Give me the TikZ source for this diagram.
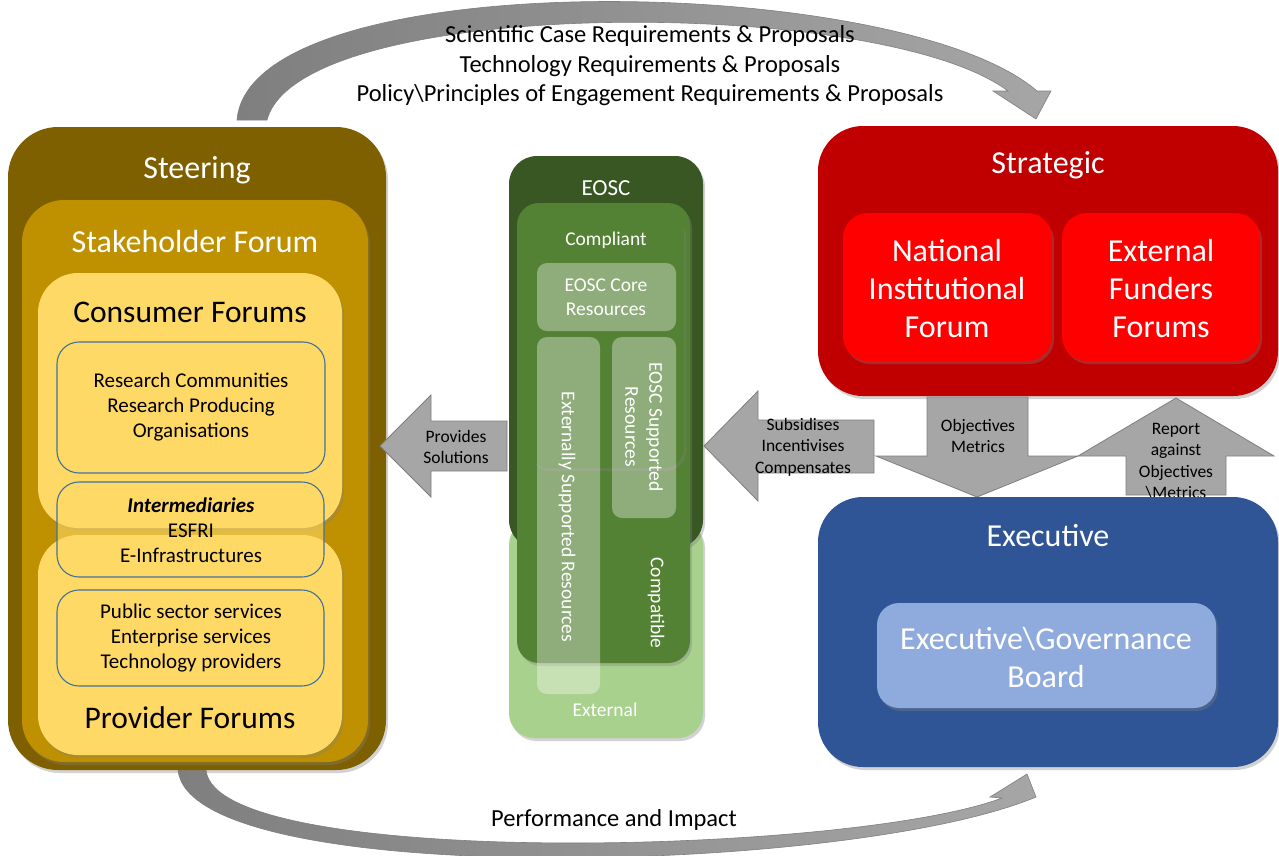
\documentclass[tikz,border=0pt]{standalone}
\usepackage{fontspec}
\setmainfont{Carlito}
\usetikzlibrary{shadows,fit}
\newcommand\fsz[2]{\fontsize{#1}{#2}\selectfont}
\definecolor{steer}{HTML}{7F6000}
\definecolor{stake}{HTML}{BF9000}
\definecolor{forum}{HTML}{FFD966}
\definecolor{fbord}{HTML}{41719C}
\definecolor{eoscd}{HTML}{385723}
\definecolor{eoscm}{HTML}{548235}
\definecolor{eoscx}{HTML}{A9D18E}
\definecolor{strat}{HTML}{C00000}
\definecolor{natred}{HTML}{FF0000}
\definecolor{execb}{HTML}{2F5597}
\definecolor{board}{HTML}{8FAADC}
\definecolor{arrfill}{HTML}{A6A6A6}
\definecolor{arrline}{HTML}{7F7F7F}
\begin{document}
\begin{tikzpicture}[x=1pt,y=-1pt,
	box/.style={rounded corners=#1,inner sep=0pt,drop shadow={shadow xshift=2pt,shadow yshift=-3pt,opacity=.35}},
	flat/.style={rounded corners=#1,inner sep=0pt},
	glass/.style={flat=10pt,fill=white,fill opacity=.35},
	inbox/.style={flat=22pt,draw=fbord,line width=1.1pt},
	title/.style={text=white,font=\fsz{32}{36}},
	forumtxt/.style={font=\fsz{31.5}{36}},
	big/.style={text=white,font=\fsz{32}{38},align=center},
	small/.style={font=\fsz{21}{25},align=center},
	eosc/.style={text=white,font=\fsz{19.5}{24},align=center},
	arrtext/.style={font=\fsz{17.5}{21.5},align=center},
	captxt/.style={font=\fsz{24.5}{29.5},align=center},
	blockarrow/.style={fill=arrfill,draw=arrline,line width=.8pt},
	curvearrow/.style={left color=arrline,right color=arrfill,draw=arrline,line width=.6pt}]
	%==khung
	\useasboundingbox (0,0) rectangle (1279,855);
	\fill[white] (0,0) rectangle (1279,855);
	%==mũi tên cong
	\shadedraw[curvearrow] (237,120) .. controls (250,-38) and (900,-28) .. (1037,91) -- (1051,91) -- (1036,119) -- (993,91) -- (1008,91) .. controls (880,-5) and (300,-5) .. (267,120) -- cycle;
	\shadedraw[curvearrow] (178,770) .. controls (190,890) and (850,875) .. (1036,797) -- (1027,774) -- (990,797) -- (1002,798) .. controls (850,855) and (215,870) .. (206,770) -- cycle;
	%==Steering
	\node[box=50pt,fill=steer,fit={(8,127)(386,770)}] (steering) {};
	\node[box=42pt,fill=stake,fit={(22,200)(368,762)}] (stake) {};
	\node[box=40pt,fill=forum,fit={(38,535)(342,755)}] (provider) {};
	\node[box=40pt,fill=forum,fit={(38,273)(342,528)}] (consumer) {};
	\node[inbox,fit={(57,342)(325,473)}] (research) {};
	\node[inbox,fill=forum,fill opacity=.6,fit={(57,482)(324,577)}] (inter) {};
	\node[inbox,fit={(57,590)(324,686)}] (public) {};
	\node[title] (steertxt) at (197,170) {Steering};
	\node[title] (staketxt) at (195,242) {Stakeholder Forum};
	\node[forumtxt] (constxt) at (190,312) {Consumer Forums};
	\node[forumtxt] (provtxt) at (190,718) {Provider Forums};
	\node[small] (restxt) at (191,407) {Research Communities\\Research Producing\\Organisations};
	\node[small] (intertxt) at (191,530) {\textbf{\textit{Intermediaries}}\\ESFRI\\E-Infrastructures};
	\node[small] (pubtxt) at (191,638) {Public sector services\\Enterprise services\\Technology providers};
	%==EOSC
	\node[box=25pt,fill=eoscx,fit={(509,520)(703,738)}] (external) {};
	\node[box=28pt,fill=eoscd,fit={(509,156)(703,548)}] (eoscbox) {};
	\node[box=22pt,fill=eoscm,fit={(517,203)(690,663)}] (compatible) {};
	\node[box=20pt,fill=eoscm,fit={(528,215)(684,468)}] (compliant) {};
	\node[glass,fit={(537,263)(676,331)}] (core) {};
	\node[glass,fit={(537,337)(600,694)}] (extsup) {};
	\node[glass,fit={(612,337)(676,518)}] (eoscsup) {};
	\node[eosc,font=\fsz{23}{26}] (eosctxt) at (606,188) {EOSC};
	\node[eosc] (compltxt) at (606,240) {Compliant};
	\node[eosc] (coretxt) at (606,297) {EOSC Core\\Resources};
	\node[eosc,rotate=-90] (extsuptxt) at (567,517) {Externally Supported Resources};
	\node[eosc,rotate=-90] (eoscsuptxt) at (644,427) {EOSC Supported\\Resources};
	\node[eosc,rotate=-90] (compattxt) at (656,603) {Compatible};
	\node[eosc] (exttxt) at (605,710) {External};
	%==Strategic
	\node[box=45pt,fill=strat,fit={(818,126)(1278,396)}] (strategic) {};
	\node[box=25pt,fill=natred,fit={(843,213)(1052,361)}] (national) {};
	\node[box=25pt,fill=natred,fit={(1062,213)(1260,361)}] (funders) {};
	\node[title] (strattxt) at (1048,165) {Strategic};
	\node[big] (nattxt) at (947,288) {National\\Institutional\\Forum};
	\node[big] (fundtxt) at (1161,288) {External\\Funders\\Forums};
	%==mũi tên khối
	\draw[blockarrow] (380,446)--(431,395)--(431,421)--(507,421)--(507,471)--(431,471)--(431,497)--cycle;
	\draw[blockarrow] (704,446)--(758,391)--(758,420)--(874,420)--(874,473)--(758,473)--(758,501)--cycle;
	\draw[blockarrow] (927,397)--(1028,397)--(1028,456)--(1078,456)--(977,497)--(876,456)--(927,456)--cycle;
	\draw[blockarrow] (1176,398)--(1274,456)--(1226,456)--(1226,495)--(1126,495)--(1126,456)--(1078,456)--cycle;
	\node[arrtext] (provides) at (456,447) {Provides\\Solutions};
	\node[arrtext] (subsid) at (803,447) {Subsidises\\Incentivises\\Compensates};
	\node[arrtext] (objmet) at (978,436) {Objectives\\Metrics};
	\node[arrtext] (report) at (1176,461) {Report\\against\\Objectives\\\textbackslash Metrics};
	%==Executive
	\node[box=45pt,fill=execb,fit={(818,497)(1278,767)}] (executive) {};
	\node[box=22pt,fill=board,fit={(877,603)(1216,708)}] (boardbox) {};
	\node[title] (exectxt) at (1048,536) {Executive};
	\node[big] (boardtxt) at (1046,657) {Executive\textbackslash Governance\\Board};
	%==nhãn
	\node[captxt] (reqs) at (650,66) {Scientific Case Requirements \& Proposals\\Technology Requirements \& Proposals\\Policy\textbackslash Principles of Engagement Requirements \& Proposals};
	\node[captxt] (perf) at (614,820) {Performance and Impact};
\end{tikzpicture}
\end{document}
